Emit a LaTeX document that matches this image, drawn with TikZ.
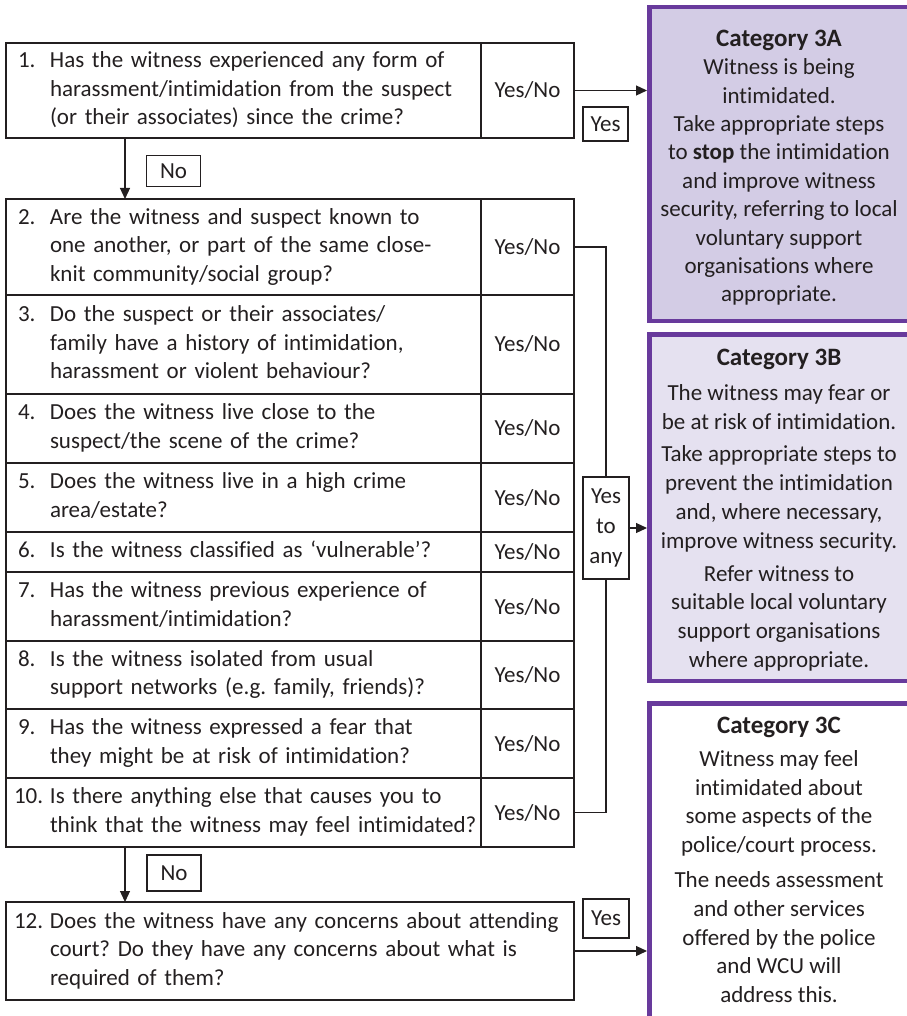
\documentclass[tikz,border=0pt]{standalone}
\usepackage{fontspec}
\setmainfont{Carlito}[Ligatures=NoCommon]
\usetikzlibrary{arrows.meta}
\definecolor{ink}{HTML}{231F20}
\definecolor{catpurple}{RGB}{104,58,156}
\definecolor{fillA}{RGB}{211,204,229}
\definecolor{fillB}{RGB}{229,225,240}
\newcommand{\qn}[1]{\makebox[32pt][l]{#1}}
\newcommand{\qnw}[1]{\hspace*{-4pt}\makebox[36pt][l]{#1}}
\newcommand{\qi}{\hspace*{32pt}}
\newcommand{\cathead}[1]{{\fontsize{25}{28}\selectfont\bfseries #1}}
\frenchspacing
\begin{document}
\begin{tikzpicture}[x=1pt,y=-1pt,
  every node/.style={text=ink, font=\fontsize{23}{28.5}\selectfont, outer sep=0pt},
  cell/.style={draw=ink, line width=1.2pt, rectangle, anchor=north west, inner ysep=0pt},
  qcell/.style={cell, inner xsep=12pt, text width=451pt, align=left, minimum width=475pt, execute at begin node=\strut, execute at end node=\strut},
  acell/.style={cell, inner xsep=0pt, minimum width=93pt, align=center},
  tag/.style={draw=ink, line width=1.2pt, rectangle, inner sep=0pt, align=center},
  catbox/.style={draw=catpurple, line width=4.5pt, rectangle, anchor=north west, inner sep=0pt, minimum width=280pt},
  cattext/.style={anchor=north, align=center, inner sep=0pt, execute at begin node=\strut},
  flow/.style={draw=ink, line width=1.2pt},
  arr/.style={flow, -{Triangle[length=11pt,width=10pt]}},
]
\useasboundingbox (0,0) rectangle (906,1016);

% category boxes
\node[catbox, fill=fillA, minimum height=313.5pt] (c3a) at (649.25,7.25) {};
\node[catbox, fill=fillB, minimum height=346.5pt] (c3b) at (649.25,334.25) {};
\node[catbox, fill=white, minimum height=350pt] (c3c) at (649.25,703.25) {};

\node[cattext, font=\fontsize{23}{28.4}\selectfont] (t3a) at (779,30) {\cathead{Category 3A}\\ Witness is being\\ intimidated.\\ Take appropriate steps\\ to \textbf{stop} the intimidation\\ and improve witness\\ security, referring to local\\ voluntary support\\ organisations where\\ appropriate.};
\node[cattext, font=\fontsize{23}{28.8}\selectfont] (t3b) at (779,349) {\cathead{Category 3B}\\[6pt] The witness may fear or\\ be at risk of intimidation.\\[4pt] Take appropriate steps to\\ prevent the intimidation\\ and, where necessary,\\ improve witness security.\\[4pt] Refer witness to\\ suitable local voluntary\\ support organisations\\ where appropriate.};
\node[cattext, font=\fontsize{23}{28.8}\selectfont] (t3c) at (779,717) {\cathead{Category 3C}\\[4pt] Witness may feel\\ intimidated about\\ some aspects of the\\ police/court process.\\[6pt] The needs assessment\\ and other services\\ offered by the police\\ and WCU will\\ address this.};

% question 1
\node[qcell, minimum height=95pt] (q1) at (6,43) {\mbox{\qn{1.}Has the witness experienced any form of}\\\mbox{\qi harassment/intimidation from the suspect}\\\mbox{\qi (or their associates) since the crime?}};
\node[acell, minimum height=95pt] (a1) at (481,43) {Yes/No};

% questions 2-10
\node[qcell, minimum height=96pt] (q2) at (6,199) {\mbox{\qn{2.}Are the witness and suspect known to}\\\mbox{\qi one another, or part of the same close-}\\\mbox{\qi knit community/social group?}};
\node[acell, minimum height=96pt] (a2) at (481,199) {Yes/No};
\node[qcell, minimum height=99pt] (q3) at (6,295) {\mbox{\qn{3.}Do the suspect or their associates/}\\\mbox{\qi family have a history of intimidation,}\\\mbox{\qi harassment or violent behaviour?}};
\node[acell, minimum height=99pt] (a3) at (481,295) {Yes/No};
\node[qcell, minimum height=69pt] (q4) at (6,394) {\mbox{\qn{4.}Does the witness live close to the}\\\mbox{\qi suspect/the scene of the crime?}};
\node[acell, minimum height=69pt] (a4) at (481,394) {Yes/No};
\node[qcell, minimum height=69pt] (q5) at (6,463) {\mbox{\qn{5.}Does the witness live in a high crime}\\\mbox{\qi area/estate?}};
\node[acell, minimum height=69pt] (a5) at (481,463) {Yes/No};
\node[qcell, minimum height=40pt] (q6) at (6,532) {\mbox{\qn{6.}Is the witness classified as ‘vulnerable’?}};
\node[acell, minimum height=40pt] (a6) at (481,532) {Yes/No};
\node[qcell, minimum height=69pt] (q7) at (6,572) {\mbox{\qn{7.}Has the witness previous experience of}\\\mbox{\qi harassment/intimidation?}};
\node[acell, minimum height=69pt] (a7) at (481,572) {Yes/No};
\node[qcell, minimum height=68pt] (q8) at (6,641) {\mbox{\qn{8.}Is the witness isolated from usual}\\\mbox{\qi support networks (e.g. family, friends)?}};
\node[acell, minimum height=68pt] (a8) at (481,641) {Yes/No};
\node[qcell, minimum height=69pt] (q9) at (6,709) {\mbox{\qn{9.}Has the witness expressed a fear that}\\\mbox{\qi they might be at risk of intimidation?}};
\node[acell, minimum height=69pt] (a9) at (481,709) {Yes/No};
\node[qcell, minimum height=69pt] (q10) at (6,778) {\mbox{\qnw{10.}Is there anything else that causes you to}\\\mbox{\qi think that the witness may feel intimidated?}};
\node[acell, minimum height=69pt] (a10) at (481,778) {Yes/No};

% question 12
\node[qcell, text width=544pt, minimum width=568pt, minimum height=98pt] (q12) at (6,902) {\mbox{\qnw{12.}Does the witness have any concerns about attending}\\\mbox{\qi court? Do they have any concerns about what is}\\\mbox{\qi required of them?}};

% tags
\node[tag, minimum width=54pt, minimum height=31pt] (no1) at (173.5,171) {No};
\node[tag, minimum width=54pt, minimum height=36pt] (no2) at (174,873) {No};
\node[tag, minimum width=45pt, minimum height=34pt] (yes1) at (605.5,124) {Yes};
\node[tag, minimum width=46pt, minimum height=39pt] (yes12) at (606,918.5) {Yes};
\node[tag, minimum width=46pt, minimum height=102pt] (yany) at (606,528) {Yes\\[1.5pt]to\\[1.5pt]any};

% connectors
\draw[arr, shorten >=2.25pt] (a1.east) -- (a1.east -| c3a.west);
\coordinate (d1) at ([xshift=119pt]q1.south west);
\draw[arr] (d1) -- (d1 |- q2.north);
\draw[flow] (a2.east) -| (yany.north);
\draw[flow] (a10.east) -| (yany.south);
\draw[arr, shorten >=2.25pt] (yany.east) -- (yany.east -| c3b.west);
\coordinate (d2) at ([xshift=119pt]q10.south west);
\draw[arr] (d2) -- (d2 |- q12.north);
\draw[arr, shorten >=2.25pt] (q12.east) -- (q12.east -| c3c.west);
\end{tikzpicture}
\end{document}
